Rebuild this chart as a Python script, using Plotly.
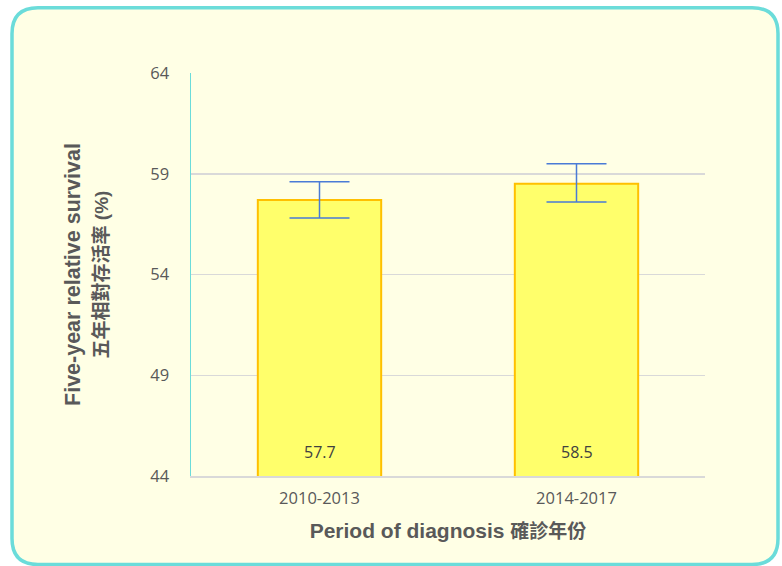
import plotly.graph_objects as go

periods = ["2010-2013", "2014-2017"]
survival = [57.7, 58.5]
ci_lower = [56.8, 57.6]
ci_upper = [58.6, 59.5]
y_ticks = [44, 49, 54, 59, 64]

W, H = 782, 566
L, R, T, B = 191, 77, 73, 90
pw, ph = W - L - R, H - T - B

def px(x):
    return (x - L) / pw

def py(y):
    return (H - B - y) / ph

def rounded_rect(x0, y0, x1, y1, r):
    pts = [
        f"M {px(x0 + r)},{py(y0)}",
        f"L {px(x1 - r)},{py(y0)}",
        f"Q {px(x1)},{py(y0)} {px(x1)},{py(y0 + r)}",
        f"L {px(x1)},{py(y1 - r)}",
        f"Q {px(x1)},{py(y1)} {px(x1 - r)},{py(y1)}",
        f"L {px(x0 + r)},{py(y1)}",
        f"Q {px(x0)},{py(y1)} {px(x0)},{py(y1 - r)}",
        f"L {px(x0)},{py(y0 + r)}",
        f"Q {px(x0)},{py(y0)} {px(x0 + r)},{py(y0)}",
        "Z",
    ]
    return " ".join(pts)

fig = go.Figure()
fig.add_trace(go.Bar(
    x=periods,
    y=survival,
    marker=dict(color="#FFFF6B", line=dict(color="#FFC000", width=2)),
    error_y=dict(
        type="data",
        symmetric=False,
        array=[u - v for u, v in zip(ci_upper, survival)],
        arrayminus=[v - l for v, l in zip(survival, ci_lower)],
        color="#4A7BD6",
        thickness=1.5,
        width=30,
    ),
    width=0.48,
    hoverinfo="skip",
))

for p, v in zip(periods, survival):
    fig.add_annotation(
        x=p, y=y_ticks[0], text=f"{v:.1f}", showarrow=False,
        yanchor="bottom", yshift=11,
        font=dict(family="Open Sans", size=16, color="#404040"),
    )

fig.add_shape(
    type="path", xref="paper", yref="paper",
    path=rounded_rect(12, 7.7, 778, 564.5, 26),
    fillcolor="#FFFFE5", line=dict(color="#6BDCDA", width=3.5),
    layer="below",
)

cjk = 'style="font-size:19px"'
fig.update_layout(
    width=W, height=H,
    margin=dict(l=L, r=R, t=T, b=B),
    paper_bgcolor="white",
    plot_bgcolor="rgba(0,0,0,0)",
    showlegend=False,
    xaxis=dict(
        showgrid=False,
        showline=True, linecolor="#D9D9D9", linewidth=1.5,
        tickfont=dict(family="Open Sans", size=16.5, color="#595959"),
        ticks="", ticklabelstandoff=7,
        title=dict(
            text=f"<b>Period of diagnosis</b> <b><span {cjk}>確診年份</span></b>",
            font=dict(family="Liberation Sans, Noto Sans CJK TC", size=21, color="#595959"),
            standoff=15,
        ),
    ),
    yaxis=dict(
        range=[44, 64],
        tickvals=y_ticks,
        showgrid=True, gridcolor="#D9D9D9", gridwidth=1.5,
        zeroline=False,
        showline=True, linecolor="#6BDCDA", linewidth=1.5,
        tickfont=dict(family="Open Sans", size=16.5, color="#595959"),
        ticks="", ticklabelstandoff=17,
        title=dict(
            text=f"<b>Five-year relative survival</b><br><b><span {cjk}>五年相對存活率 (%)</span></b>",
            font=dict(family="Liberation Sans, Noto Sans CJK TC", size=21.5, color="#595959"),
            standoff=36,
        ),
    ),
)

fig.write_html(
    "out.html",
    config={"displayModeBar": False, "staticPlot": True},
    post_script="document.body.style.margin='0';document.body.style.overflow='hidden';",
)
